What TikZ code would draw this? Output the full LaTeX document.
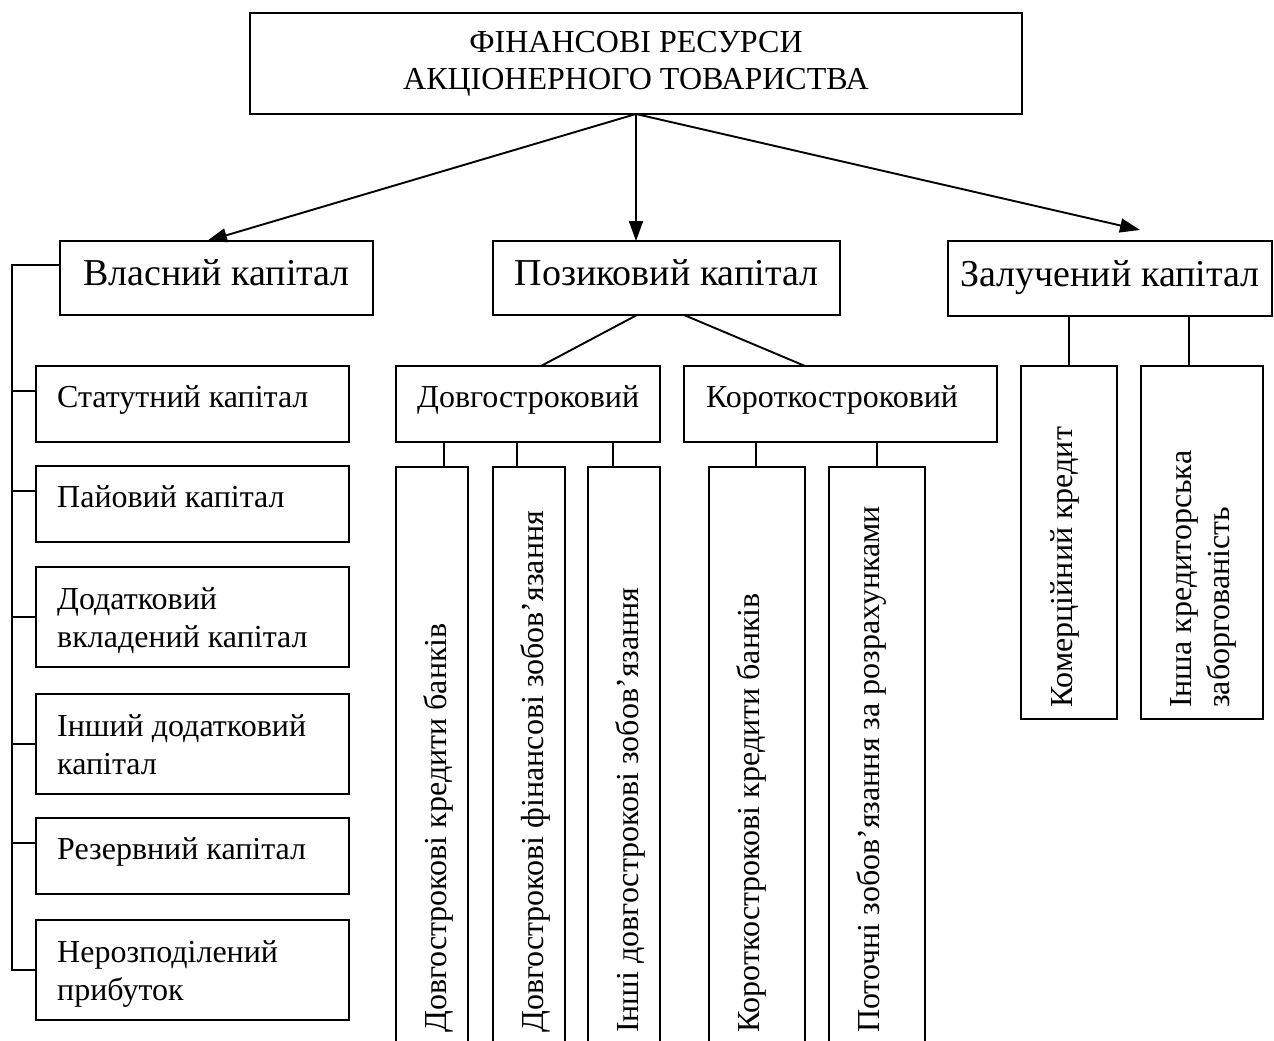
\documentclass[tikz,border=0pt]{standalone}
\usepackage{fontspec}
\setmainfont{Liberation Serif}
\usetikzlibrary{arrows.meta}
\begin{document}
\begin{tikzpicture}[x=1pt,y=-1pt,
  box/.style={draw, line width=1.9pt, rectangle, inner sep=0pt, outer sep=0pt, anchor=north west},
  body/.style={inner sep=0pt, font=\fontsize{32}{38}\selectfont, align=left},
  head/.style={font=\fontsize{38}{44}\selectfont, text height=27pt, text depth=12pt},
  link/.style={line width=1.9pt},
  arr/.style={line width=1.9pt, -{Triangle[length=20pt,width=14pt]}},
]
\useasboundingbox (0,0) rectangle (1274,1041);
\clip (0,0) rectangle (1274,1041);

% top level
\node[box, minimum width=772pt, minimum height=101pt, align=center,
      font=\fontsize{32}{37}\selectfont] (title) at (250,13)
      {ФІНАНСОВІ РЕСУРСИ\\АКЦІОНЕРНОГО ТОВАРИСТВА};

% second level
\node[box, head, minimum width=313pt, minimum height=74pt] (vlas) at (60,241) {Власний капітал};
\node[box, head, minimum width=347pt, minimum height=74pt] (poz) at (493,241) {Позиковий капітал};
\node[box, head, minimum width=324pt, minimum height=75pt] (zal) at (948,241) {Залучений капітал};

\draw[arr] (title.south) -- ([shift={(147,0)}]vlas.north west);
\draw[arr] (title.south) -- (title.south |- poz.north);
\draw[arr] (title.south) -- ([shift={(192,-11)}]zal.north west);

% own capital
\node[box, minimum width=313pt, minimum height=76pt]  (stat) at (36,366) {};
\node[box, minimum width=313pt, minimum height=76pt]  (pai)  at (36,466) {};
\node[box, minimum width=313pt, minimum height=100pt] (dod)  at (36,567) {};
\node[box, minimum width=313pt, minimum height=100pt] (insh) at (36,694) {};
\node[box, minimum width=313pt, minimum height=76pt]  (rez)  at (36,818) {};
\node[box, minimum width=313pt, minimum height=100pt] (ner)  at (36,920) {};

\node[body, anchor=base west] (stat-t) at ([shift={(21,41)}]stat.north west) {Статутний капітал};
\node[body, anchor=base west] (pai-t)  at ([shift={(21,41)}]pai.north west) {Пайовий капітал};
\node[body, anchor=north west] (dod-t) at ([shift={(21,20)}]dod.north west) {Додатковий\\вкладений капітал};
\node[body, anchor=north west] (insh-t) at ([shift={(21,20)}]insh.north west) {Інший додатковий\\капітал};
\node[body, anchor=base west] (rez-t)  at ([shift={(21,41)}]rez.north west) {Резервний капітал};
\node[body, anchor=north west] (ner-t) at ([shift={(21,20)}]ner.north west) {Нерозподілений\\прибуток};

\draw[link] ([yshift=13pt]vlas.west) -- ++(-48,0) |- (ner.west);
\foreach \b/\s in {stat/13, pai/13, dod/0, insh/0, rez/13}
  \draw[link] ([yshift=\s pt]\b.west) -- ++(-24,0);

% borrowed capital
\node[box, minimum width=264pt, minimum height=76pt] (dovg)  at (396,366) {};
\node[box, minimum width=313pt, minimum height=76pt] (korot) at (684,366) {};
\node[body, anchor=base west] (dovg-t)  at ([shift={(21,41)}]dovg.north west) {Довгостроковий};
\node[body, anchor=base west] (korot-t) at ([shift={(22,41)}]korot.north west) {Короткостроковий};

\draw[link] ([shift={(144,0)}]poz.south west) -- ([shift={(145,0)}]dovg.north west);
\draw[link] ([shift={(191,0)}]poz.south west) -- ([shift={(121,0)}]korot.north west);

\node[box, minimum width=72pt, minimum height=600pt] (v1) at (396,467) {};
\node[box, minimum width=72pt, minimum height=600pt] (v2) at (493,467) {};
\node[box, minimum width=72pt, minimum height=600pt] (v3) at (588,467) {};
\node[box, minimum width=96pt, minimum height=600pt] (v4) at (709,467) {};
\node[box, minimum width=96pt, minimum height=600pt] (v5) at (829,467) {};

\foreach \v/\t in {v1/{Довгострокові кредити банків},
                   v2/{Довгострокові фінансові зобов’язання},
                   v3/{Інші довгострокові зобов’язання},
                   v4/{Короткострокові кредити банків},
                   v5/{Поточні зобов’язання за розрахунками}}
  \node[body, rotate=90, anchor=base west] (\v-t) at ([shift={(50,566)}]\v.north west) {\t};

\draw[link] ([xshift=12pt]v1.north) -- ([xshift=12pt]v1.north |- dovg.south);
\draw[link] ([xshift=-12pt]v2.north) -- ([xshift=-12pt]v2.north |- dovg.south);
\draw[link] ([xshift=-11pt]v3.north) -- ([xshift=-11pt]v3.north |- dovg.south);
\draw[link] ([xshift=-1pt]v4.north) -- ([xshift=-1pt]v4.north |- korot.south);
\draw[link] (v5.north) -- (v5.north |- korot.south);

% attracted capital
\node[box, minimum width=96pt, minimum height=353pt]  (r1) at (1021,366) {};
\node[box, minimum width=122pt, minimum height=353pt] (r2) at (1141,366) {};
\node[body, rotate=90, anchor=base west] (r1-t) at ([shift={(51,342)}]r1.north west) {Комерційний кредит};
\node[body, rotate=90, anchor=north west] (r2-t) at ([shift={(29,342)}]r2.north west) {Інша кредиторська\\заборгованість};

\draw[link] (r1.north) -- (r1.north |- zal.south);
\draw[link] ([xshift=-13pt]r2.north) -- ([xshift=-13pt]r2.north |- zal.south);
\end{tikzpicture}
\end{document}
